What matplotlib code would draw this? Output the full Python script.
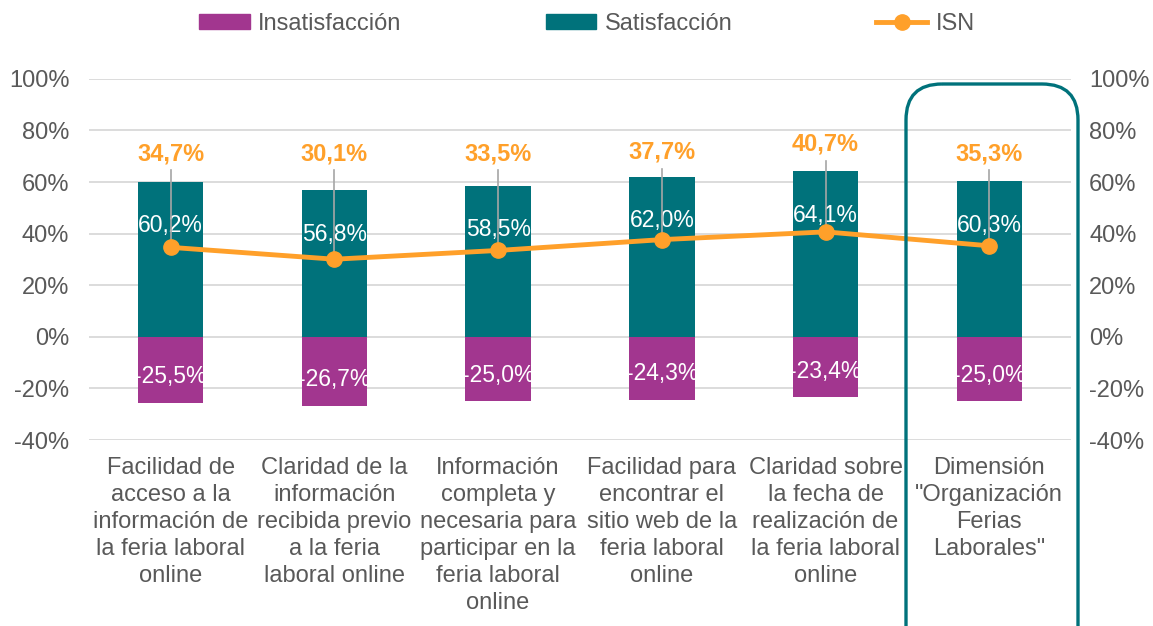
import matplotlib
matplotlib.use('Agg')
from matplotlib import pyplot as plt
from matplotlib.patches import FancyBboxPatch, Patch
from matplotlib.lines import Line2D
import numpy as np

plt.rcParams['font.family'] = ['Liberation Sans', 'DejaVu Sans']

categorias = ['Facilidad de\nacceso a la\ninformación de\nla feria laboral\nonline',
              'Claridad de la\ninformación\nrecibida previo\na la feria\nlaboral online',
              'Información\ncompleta y\nnecesaria para\nparticipar en la\nferia laboral\nonline',
              'Facilidad para\nencontrar el\nsitio web de la\nferia laboral\nonline',
              'Claridad sobre\nla fecha de\nrealización de\nla feria laboral\nonline',
              'Dimensión\n"Organización\nFerias\nLaborales"']
satisfaccion = [60.2, 56.8, 58.5, 62.0, 64.1, 60.3]
insatisfaccion = [-25.5, -26.7, -25.0, -24.3, -23.4, -25.0]
isn = [34.7, 30.1, 33.5, 37.7, 40.7, 35.3]
ticks = [-40, -20, 0, 20, 40, 60, 80, 100]

morado = '#A2368F'
verde = '#00727B'
naranja = '#FFA02A'
gris = '#595959'

def fmt(v):
    return ('%.1f%%' % v).replace('.', ',')

fig = plt.figure(figsize=(11.53, 6.26), dpi=100)
ax = fig.add_axes([0.077, 0.297, 0.852, 0.577])
x = np.arange(len(categorias))

ax.bar(x, satisfaccion, width=0.4, color=verde, zorder=2)
ax.bar(x, insatisfaccion, width=0.4, color=morado, zorder=2)
ax.plot(x, isn, color=naranja, lw=3.5, marker='o', ms=11, zorder=4)

for i in range(len(x)):
    ax.text(x[i], satisfaccion[i] - 17, fmt(satisfaccion[i]), color='white',
            ha='center', va='center', fontsize=16.5, zorder=3)
    ax.text(x[i], insatisfaccion[i] + 10, fmt(insatisfaccion[i]), color='white',
            ha='center', va='center', fontsize=16.5, zorder=3)
    y_lab = max(71, isn[i] + 34)
    ax.text(x[i], y_lab, fmt(isn[i]), color=naranja, fontweight='bold',
            ha='center', va='center', fontsize=17, zorder=5)
    ax.plot([x[i], x[i]], [y_lab - 6.5, isn[i]], color='#a6a6a6', lw=1.2, zorder=3)

ax.set_xlim(-0.5, len(x) - 0.5)
ax.set_ylim(-40, 100)
ax.set_yticks(ticks)
ax.set_yticklabels(['%d%%' % t for t in ticks])
ax.set_xticks(x)
ax.set_xticklabels(categorias, linespacing=1.3)
ax.tick_params(axis='both', length=0, colors=gris, labelsize=17)
ax.tick_params(axis='y', pad=14)
ax.tick_params(axis='x', pad=12)
ax.grid(axis='y', color='#d9d9d9', lw=1.3, zorder=0)
for s in ax.spines.values():
    s.set_visible(False)

ax2 = ax.twinx()
ax2.set_ylim(-40, 100)
ax2.set_yticks(ticks)
ax2.set_yticklabels(['%d%%' % t for t in ticks])
ax2.tick_params(axis='y', length=0, colors=gris, labelsize=17, pad=13)
for s in ax2.spines.values():
    s.set_visible(False)

handles = [Patch(color=morado), Patch(color=verde),
           Line2D([0], [0], color=naranja, lw=3.5, marker='o', ms=11)]
leg = fig.legend(handles, ['Insatisfacción', 'Satisfacción', 'ISN'], loc='center',
                 bbox_to_anchor=(0.509, 0.962), ncol=3, frameon=False, fontsize=17,
                 handlelength=2.15, handleheight=0.6, handletextpad=0.35, columnspacing=6.1)
for t in leg.get_texts():
    t.set_color(gris)

over = fig.add_axes([0, 0, 1, 1])
over.set_xlim(0, 1153)
over.set_ylim(626, 0)
over.axis('off')
over.patch.set_alpha(0)
caja = FancyBboxPatch((906, 84), 172, 580, boxstyle='round,pad=0,rounding_size=36',
                      fc='none', ec=verde, lw=2.4)
over.add_patch(caja)

fig.savefig('out.png', dpi=100)
